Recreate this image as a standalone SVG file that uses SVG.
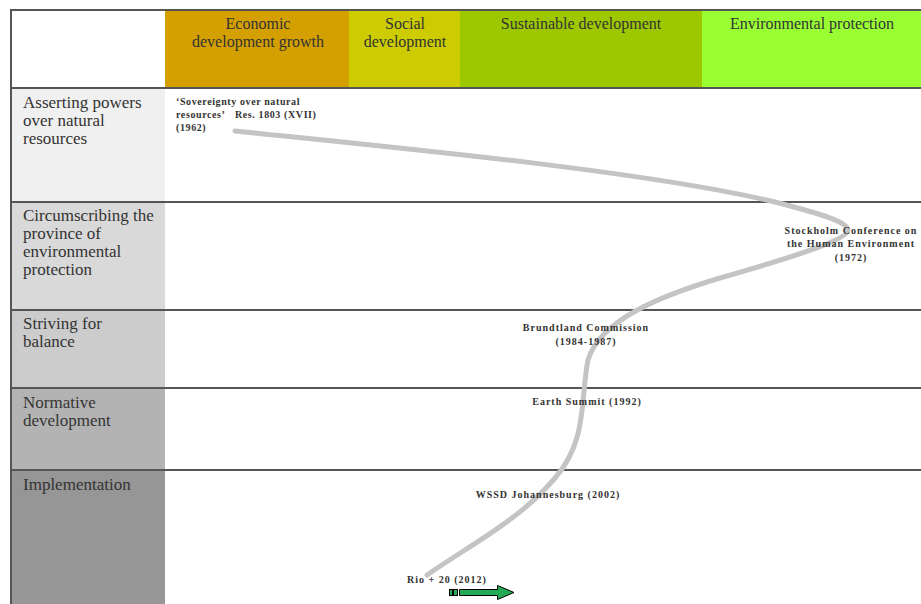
<svg xmlns="http://www.w3.org/2000/svg" width="921" height="604" viewBox="0 0 921 604">
<style>
.hdr{font-family:"Liberation Serif","DejaVu Serif","Times New Roman",serif;font-size:16px;fill:#333;text-anchor:middle}
.lbl{font-family:"Liberation Serif","DejaVu Serif","Times New Roman",serif;font-size:17px;fill:#333}
.ev{font-family:"Liberation Serif","DejaVu Serif","Times New Roman",serif;font-size:10px;font-weight:bold;fill:#333;letter-spacing:0.6px}
.evc{font-family:"Liberation Serif","DejaVu Serif","Times New Roman",serif;font-size:10px;font-weight:bold;fill:#333;text-anchor:middle;letter-spacing:1px}
.rule{stroke:#555;stroke-width:2}
</style>
<rect x="0" y="0" width="921" height="604" fill="#fff"/>
<g id="header">
<rect x="11" y="10" width="154" height="78" fill="#fff"/>
<rect x="165" y="10" width="184" height="78" fill="#D4A000"/>
<rect x="349" y="10" width="111" height="78" fill="#CCCC00"/>
<rect x="460" y="10" width="242" height="78" fill="#9DC800"/>
<rect x="702" y="10" width="219" height="78" fill="#99FF33"/>
<text class="hdr" x="258" y="29">Economic</text>
<text class="hdr" x="258" y="47">development growth</text>
<text class="hdr" x="405" y="29">Social</text>
<text class="hdr" x="405" y="47">development</text>
<text class="hdr" x="581" y="29">Sustainable development</text>
<text class="hdr" x="812" y="29">Environmental protection</text>
</g>
<g id="rows">
<rect x="11" y="88" width="154" height="114" fill="#F0F0F0"/>
<rect x="11" y="202" width="154" height="108" fill="#D9D9D9"/>
<rect x="11" y="310" width="154" height="78" fill="#CCCCCC"/>
<rect x="11" y="388" width="154" height="82" fill="#B3B3B3"/>
<rect x="11" y="470" width="154" height="134" fill="#969696"/>
<line class="rule" x1="11" y1="10" x2="921" y2="10"/>
<line class="rule" x1="11" y1="9" x2="11" y2="604"/>
<line class="rule" x1="11" y1="88" x2="921" y2="88"/>
<line class="rule" x1="11" y1="202" x2="921" y2="202"/>
<line class="rule" x1="11" y1="310" x2="921" y2="310"/>
<line class="rule" x1="11" y1="388" x2="921" y2="388"/>
<line class="rule" x1="11" y1="470" x2="921" y2="470"/>
<text class="lbl" x="23" y="108">Asserting powers</text>
<text class="lbl" x="23" y="126">over natural</text>
<text class="lbl" x="23" y="144">resources</text>
<text class="lbl" x="23" y="221">Circumscribing the</text>
<text class="lbl" x="23" y="239">province of</text>
<text class="lbl" x="23" y="257">environmental</text>
<text class="lbl" x="23" y="275">protection</text>
<text class="lbl" x="23" y="329">Striving for</text>
<text class="lbl" x="23" y="347">balance</text>
<text class="lbl" x="23" y="408">Normative</text>
<text class="lbl" x="23" y="426">development</text>
<text class="lbl" x="23" y="490">Implementation</text>
</g>
<g id="connectors">
<path d="M235,131 C420,150 650,172 775,202 C822,214 848,222 848,230 C848,240 790,258 720,278 C660,296 600,320 588,360 C580,400 588,440 555,478 C520,520 470,545 427,575" fill="none" stroke="#C4C4C4" stroke-width="5" stroke-linecap="round"/>
</g>
<g id="ev1962">
<text class="ev" x="176" y="105">‘Sovereignty over natural</text>
<text class="ev" x="176" y="118">resources’<tspan x="235">Res. 1803 (XVII)</tspan></text>
<text class="ev" x="176" y="131">(1962)</text>
</g>
<g id="ev1972">
<text class="evc" x="851" y="234">Stockholm Conference on</text>
<text class="evc" x="851" y="247">the Human Environment</text>
<text class="evc" x="851" y="261">(1972)</text>
</g>
<g id="ev1984">
<text class="evc" x="586" y="331">Brundtland Commission</text>
<text class="evc" x="586" y="345">(1984-1987)</text>
</g>
<g id="ev1992">
<text class="evc" x="587" y="405">Earth Summit (1992)</text>
</g>
<g id="ev2002">
<text class="evc" x="548" y="498">WSSD Johannesburg (2002)</text>
</g>
<g id="ev2012">
<text class="ev" x="407" y="583" style="letter-spacing:1px">Rio + 20 (2012)</text>
</g>
<g id="arrow">
<rect x="449.5" y="589.5" width="3" height="6" fill="#22AA55" stroke="#000" stroke-width="1"/>
<rect x="453.5" y="589.5" width="4" height="6" fill="#22AA55" stroke="#000" stroke-width="1"/>
<path d="M459.5,589.5 H497.5 V585.5 L514,592.5 L497.5,599.5 V595.5 H459.5 Z" fill="#22AA55" stroke="#000" stroke-width="1"/>
</g>
</svg>
